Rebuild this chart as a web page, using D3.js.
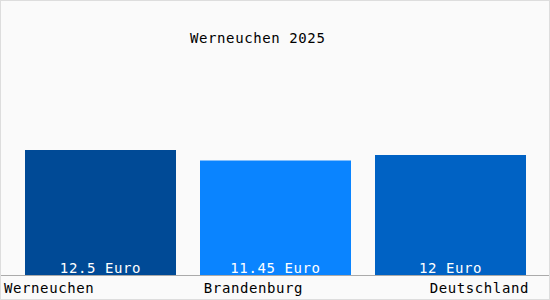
<!DOCTYPE html>
<html>
<head>
<meta charset="utf-8">
<script src="https://cdn.jsdelivr.net/npm/d3@7"></script>
<style>
  body { margin: 0; background: #fff; }
  text { font-family: "DejaVu Sans Mono", monospace; font-size: 14px; letter-spacing: 0.6px; }
</style>
</head>
<body>
<div id="chart"></div>
<script>
// Chart data
var title = 'Werneuchen 2025';
var regions = ['Werneuchen', 'Brandenburg', 'Deutschland'];
var values = [12.5, 11.45, 12];
var valueLabels = ['12.5 Euro', '11.45 Euro', '12 Euro'];
var colors = ['#004a96', '#0a84ff', '#0062c4'];

var width = 550;
var height = 300;
var baseline = 275;

var svg = d3.select('#chart')
            .append('svg')
            .attr('width', width)
            .attr('height', height);

// Background and frame
svg.append('rect')
   .attr('x', 0.5)
   .attr('y', 0.5)
   .attr('width', width - 1)
   .attr('height', height - 1)
   .attr('fill', '#fafafa')
   .attr('stroke', '#dddddd');

var x = d3.scaleBand()
          .domain(regions)
          .range([25, 526])
          .paddingInner(24 / 175)
          .paddingOuter(0);

var y = d3.scaleLinear()
          .domain([0, 12.5])
          .range([baseline, 150]);

var data = regions.map(function (r, i) {
  return { region: r, value: values[i], label: valueLabels[i], color: colors[i] };
});

// Bars
svg.selectAll('.bar')
   .data(data)
   .enter()
   .append('rect')
   .attr('class', 'bar')
   .attr('x', function (d) { return x(d.region); })
   .attr('y', function (d) { return y(d.value); })
   .attr('width', x.bandwidth())
   .attr('height', function (d) { return baseline - y(d.value); })
   .attr('fill', function (d) { return d.color; });

// Value labels inside bars
svg.selectAll('.value')
   .data(data)
   .enter()
   .append('text')
   .attr('class', 'value')
   .attr('x', function (d) { return x(d.region) + x.bandwidth() / 2; })
   .attr('y', baseline - 2)
   .attr('text-anchor', 'middle')
   .attr('fill', '#ffffff')
   .text(function (d) { return d.label; });

// Axis line
svg.append('line')
   .attr('x1', 1)
   .attr('x2', width - 1)
   .attr('y1', baseline + 0.5)
   .attr('y2', baseline + 0.5)
   .attr('stroke', '#aaaaaa');

// Category labels: first left, middle centred, last right
var anchors = ['start', 'middle', 'end'];
svg.selectAll('.cat')
   .data(data)
   .enter()
   .append('text')
   .attr('class', 'cat')
   .attr('x', function (d, i) {
     if (i === 0) return 4;
     if (i === data.length - 1) return x(d.region) + x.bandwidth() + 3;
     return x(d.region) + x.bandwidth() / 2 - 22;
   })
   .attr('y', 293)
   .attr('text-anchor', function (d, i) { return anchors[i]; })
   .attr('fill', '#000000')
   .text(function (d) { return d.region; });

// Title
svg.append('text')
   .attr('x', 190)
   .attr('y', 43)
   .attr('fill', '#000000')
   .text(title);
</script>
</body>
</html>
